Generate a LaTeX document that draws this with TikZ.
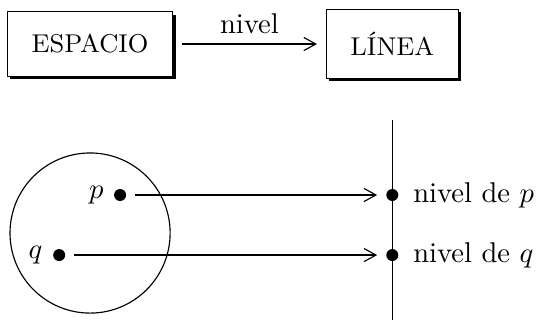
\documentclass[tikz,border=0pt]{standalone}
\usepackage{tikz}
\usetikzlibrary{shadows,positioning,arrows.meta}

\begin{document}
\begin{tikzpicture}[
    x=1pt, y=1pt,
    caja/.style = {draw, fill=white, inner xsep=8.5pt, inner ysep=8pt, font=\small,
      drop shadow={shadow xshift=1pt, shadow yshift=-1pt, opacity=1, fill=black}},
    punto/.style = {circle, fill, inner sep=0pt, minimum size=4.2pt},
    flecha/.style = {->, shorten >=3pt, shorten <=3pt},
    >={Straight Barb[length=4.2pt, width=4.6pt]}
  ]
  \useasboundingbox (0,0) rectangle (188.5,-111.9);
  % esquema de arriba
  \node[caja] (esp) at (31.5,-15.4) {ESPACIO};
  \node[caja] (lin) at (137.2,-15.4) {LÍNEA};
  \draw[->, shorten >=3pt, shorten <=3pt] (esp) -- node[above] {nivel} (lin);

  % conjunto y recta
  \node[circle, draw, minimum size=56pt] (conj) at (31.5,-81.5) {};
  \coordinate (arriba) at (137.2,-42);
  \coordinate (abajo) at (137.2,-112);
  \draw (arriba) -- (abajo);
  \node[punto, label=left:$p$] (p) at (42,-68.2) {};
  \node[punto, label=left:$q$] (q) at (20.7,-89.2) {};
  \node[punto, label={[label distance=1.5pt]right:nivel de $p$}] (np) at (137.2,-68.2) {};
  \node[punto, label={[label distance=1.5pt]right:nivel de $q$}] (nq) at (137.2,-89.2) {};
  \draw[flecha] (p) -- (np);
  \draw[flecha] (q) -- (nq);
\end{tikzpicture}
\end{document}
